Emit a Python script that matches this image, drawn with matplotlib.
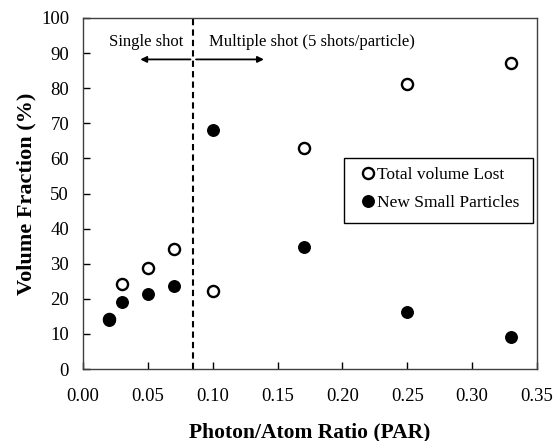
import matplotlib.pyplot as plt
from matplotlib.patches import Rectangle

plt.rcParams['font.family'] = ['Liberation Serif', 'DejaVu Serif']

# Photon/Atom ratio
par = [0.02, 0.03, 0.05, 0.07, 0.10, 0.17, 0.25, 0.33]
# volume fractions (%)
total_lost = [14.3, 24.1, 28.8, 34.3, 22.2, 63.0, 81.2, 87.2]
new_small = [14.0, 19.2, 21.4, 23.6, 68.1, 34.7, 16.1, 9.0]

boundary = 0.085

W, H = 553, 441
fig = plt.figure(figsize=(W/100, H/100), dpi=100)
ax = fig.add_axes([83/W, 1-369/H, 454/W, 351/H])

ax.plot(par, total_lost, 'o', mfc='white', mec='black', mew=1.7, ms=8,
        label='Total volume Lost', linestyle='none')
ax.plot(par, new_small, 'o', color='black', ms=8.3,
        label='New Small Particles', linestyle='none')

ax.axvline(boundary, color='black', linestyle=(0, (3, 2)), lw=1.5)
for end in (0.042, 0.1416):
    ax.annotate('', xy=(end, 88.2), xytext=(boundary, 88.2),
                arrowprops=dict(arrowstyle='-|>', color='black', lw=1.3,
                                mutation_scale=9))
ax.text(0.0486, 93.2, 'Single shot', ha='center', va='center', fontsize=12)
ax.text(0.097, 93.2, 'Multiple shot (5 shots/particle)', ha='left',
        va='center', fontsize=12)

ax.set_xlim(0, 0.35)
ax.set_ylim(0, 100)
ax.set_xticks([0.0, 0.05, 0.10, 0.15, 0.20, 0.25, 0.30, 0.35])
ax.set_xticklabels(['0.00', '0.05', '0.10', '0.15', '0.20', '0.25', '0.30', '0.35'])
ax.set_yticks(range(0, 101, 10))
ax.tick_params(direction='in', length=5, width=1, labelsize=13.5)
ax.tick_params(axis='x', pad=14)
ax.tick_params(axis='y', pad=10)
for s in ax.spines.values():
    s.set_color('#404040')
    s.set_linewidth(1)

ax.set_xlabel('Photon/Atom Ratio (PAR)', fontsize=15.5, fontweight='bold', labelpad=12)
ax.set_ylabel('Volume Fraction (%)', fontsize=16, fontweight='bold', labelpad=3)

# legend box
ax.add_patch(Rectangle(((344-83)/454, (369-223)/351), (533-344)/454, (223-158)/351,
                       transform=ax.transAxes, fill=False, ec='black', lw=1, zorder=5))
leg = ax.legend(loc='upper left', bbox_to_anchor=((362-83)/454, (369-167)/351),
                fontsize=12.5, frameon=False, handletextpad=0.15, handlelength=0.7,
                labelspacing=0.65, borderpad=0, borderaxespad=0)

fig.savefig('out.png', dpi=100)
